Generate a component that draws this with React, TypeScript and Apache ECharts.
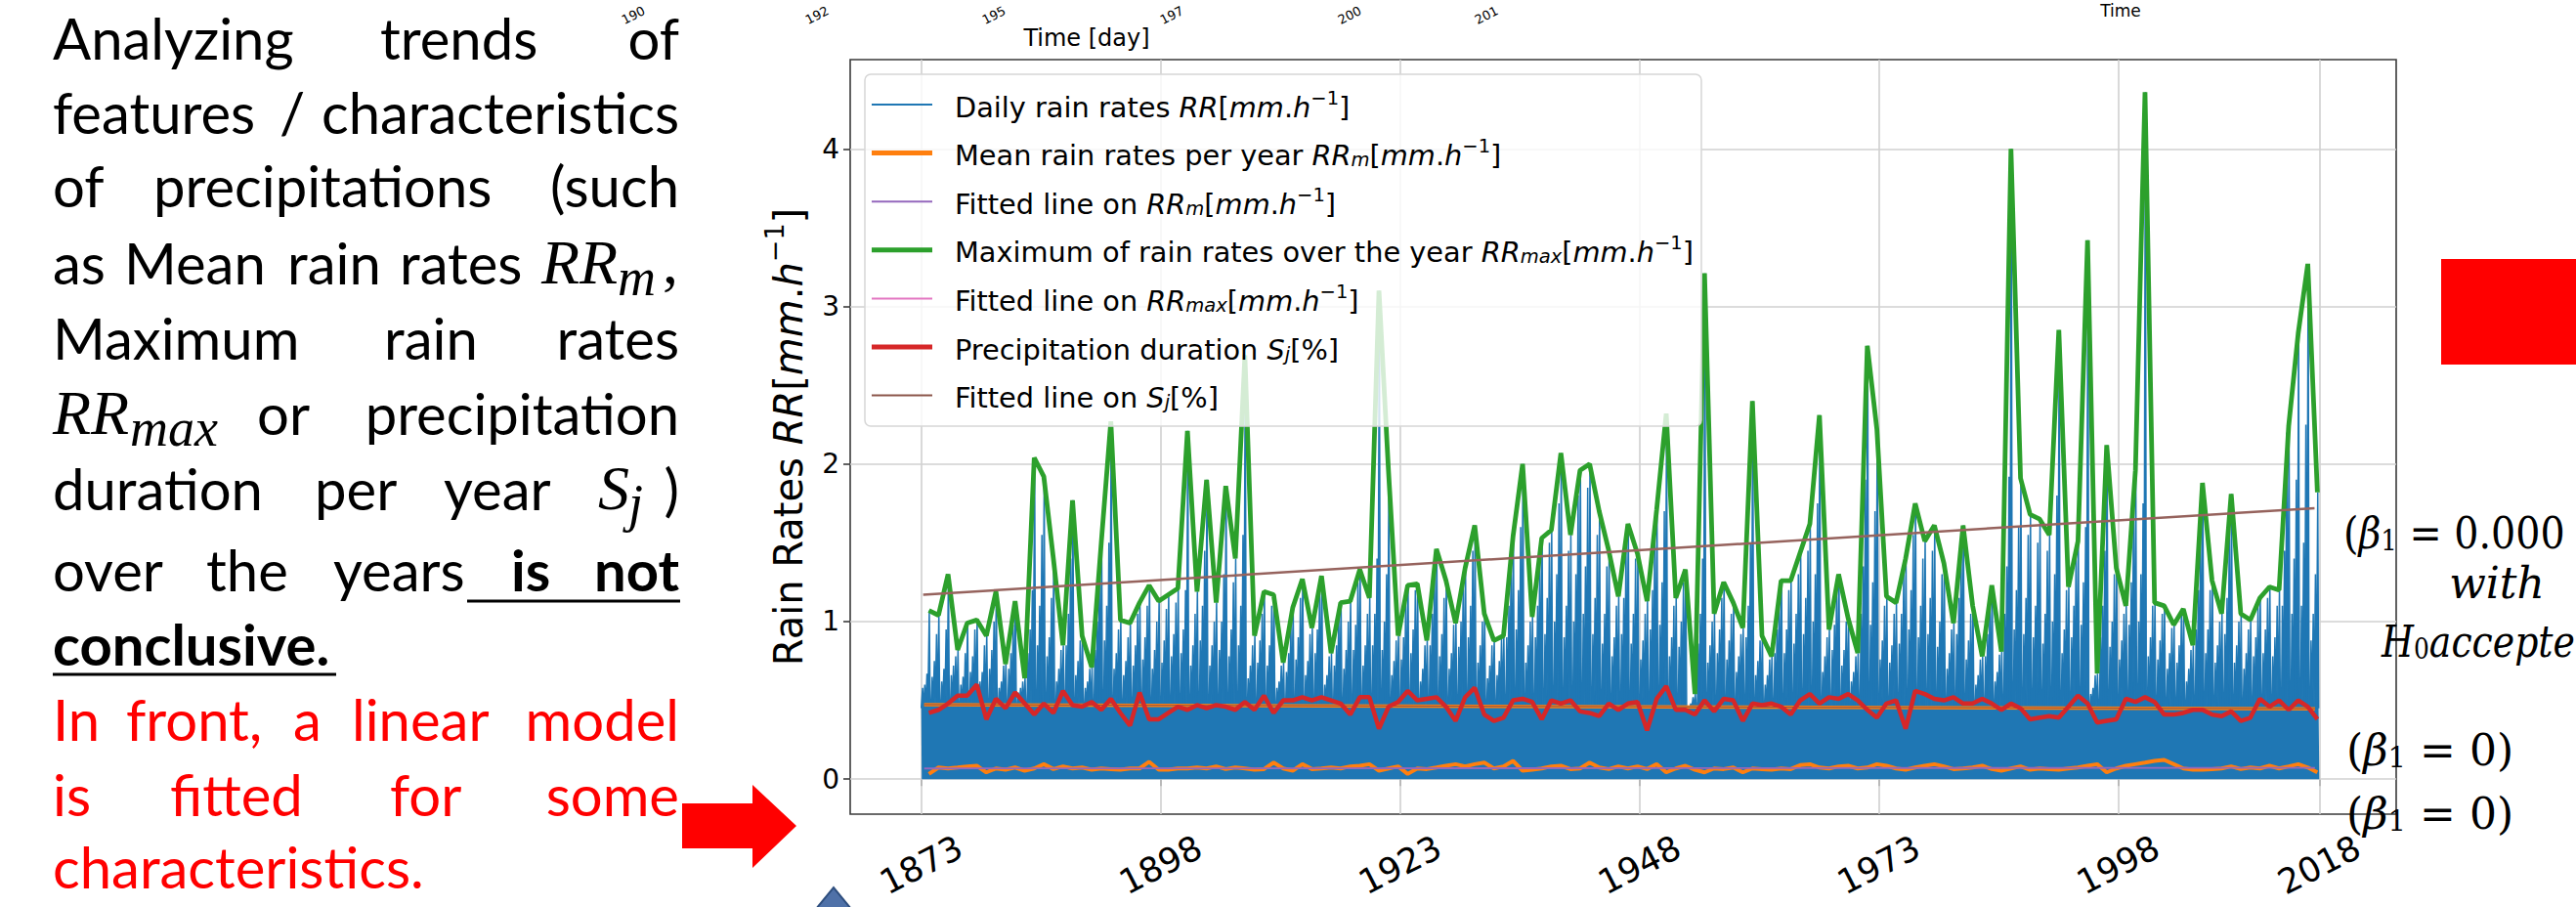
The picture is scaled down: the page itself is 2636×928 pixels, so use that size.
import React, { useEffect, useRef } from 'react';
import * as echarts from 'echarts';

// ---------------- data ----------------
const FIRST_YEAR = 1873;

// Maximum of daily rain rate per year (green)
const RR_MAX_YEARLY = [
  1.07, 1.04, 1.30, 0.82, 0.99, 1.01, 0.91, 1.19, 0.73, 1.13,
  0.64, 2.04, 1.92, 1.40, 0.85, 1.77, 0.91, 0.71, 1.50, 2.27,
  1.01, 0.99, 1.12, 1.23, 1.13, 1.17, 1.21, 2.21, 1.19, 1.90,
  1.12, 1.86, 1.40, 2.69, 0.91, 1.19, 1.17, 0.74, 1.09, 1.27,
  0.96, 1.29, 0.80, 1.12, 1.13, 1.33, 1.15, 3.10, 1.95, 0.91,
  1.23, 1.24, 0.88, 1.46, 1.26, 0.99, 1.34, 1.61, 1.05, 0.88,
  0.91, 1.54, 2.00, 1.03, 1.53, 1.58, 2.07, 1.55, 1.96, 2.00,
  1.70, 1.45, 1.16, 1.62, 1.43, 1.13, 1.71, 2.32, 1.15, 1.33,
  0.54, 3.21, 1.05, 1.25, 1.12, 0.96, 2.40, 0.91, 0.78, 1.26,
  1.26, 1.44, 1.62, 2.31, 0.95, 1.30, 1.02, 0.80, 2.75, 2.22,
  1.16, 1.12, 1.40, 1.75, 1.51, 1.61, 1.37, 0.99, 1.61, 1.10,
  0.78, 1.23, 0.81, 4.00, 1.91, 1.68, 1.65, 1.55, 2.85, 1.22,
  1.51, 3.42, 0.67, 2.12, 1.34, 1.10, 1.96, 4.36, 1.12, 1.10,
  0.98, 1.08, 0.85, 1.88, 1.26, 1.05, 1.81, 1.05, 1.01, 1.15,
  1.22, 1.20, 2.24, 2.83, 3.27, 1.82,
];

// Precipitation duration per year S_j (red)
const SJ_YEARLY = [
  0.42, 0.44, 0.48, 0.53, 0.53, 0.60, 0.38, 0.51, 0.45, 0.55,
  0.48, 0.41, 0.48, 0.42, 0.56, 0.47, 0.46, 0.49, 0.44, 0.51,
  0.42, 0.34, 0.55, 0.38, 0.38, 0.42, 0.46, 0.44, 0.47, 0.45,
  0.47, 0.46, 0.44, 0.49, 0.44, 0.53, 0.42, 0.50, 0.50, 0.52,
  0.50, 0.52, 0.50, 0.48, 0.41, 0.52, 0.52, 0.32, 0.46, 0.49,
  0.56, 0.50, 0.51, 0.52, 0.46, 0.37, 0.52, 0.58, 0.41, 0.37,
  0.39, 0.50, 0.51, 0.49, 0.38, 0.50, 0.48, 0.50, 0.43, 0.42,
  0.40, 0.48, 0.44,
  0.48, 0.49, 0.31, 0.51, 0.59, 0.44, 0.44, 0.41, 0.50, 0.43,
  0.51, 0.50, 0.37, 0.48, 0.47, 0.48, 0.46, 0.41, 0.50, 0.54,
  0.48, 0.52, 0.51, 0.54, 0.50, 0.44, 0.39, 0.48, 0.50, 0.32,
  0.56, 0.54, 0.51, 0.50, 0.52, 0.48, 0.48, 0.51, 0.48, 0.44,
  0.48, 0.45, 0.38, 0.39, 0.40, 0.39, 0.46, 0.53, 0.48, 0.36,
  0.37, 0.38, 0.51, 0.49, 0.52, 0.49, 0.41, 0.41, 0.42, 0.44,
  0.44, 0.41, 0.40, 0.43, 0.37, 0.39, 0.51, 0.46, 0.50, 0.44,
  0.50, 0.46, 0.38,
];

// Mean rain rate per year RR_m (orange)
const RR_MEAN_YEARLY = [
  0.033, 0.074, 0.068, 0.074, 0.081, 0.085, 0.043, 0.068, 0.060, 0.074,
  0.054, 0.068, 0.095, 0.064, 0.081, 0.068, 0.074, 0.060, 0.068, 0.064,
  0.060, 0.068, 0.068, 0.110, 0.060, 0.060, 0.068, 0.068, 0.074, 0.068,
  0.081, 0.064, 0.074, 0.068, 0.060, 0.064, 0.105, 0.068, 0.054, 0.095,
  0.064, 0.068, 0.074, 0.068, 0.081, 0.085, 0.095, 0.054, 0.068, 0.081,
  0.033, 0.068, 0.064, 0.074, 0.085, 0.095, 0.081, 0.095, 0.105, 0.068,
  0.081, 0.116, 0.054, 0.060, 0.068, 0.081, 0.085, 0.064, 0.068, 0.105,
  0.074, 0.064, 0.081,
  0.068, 0.081, 0.064, 0.095, 0.043, 0.068, 0.085, 0.060, 0.043, 0.068,
  0.064, 0.074, 0.043, 0.068, 0.064, 0.060, 0.068, 0.064, 0.089, 0.095,
  0.074, 0.068, 0.081, 0.085, 0.068, 0.074, 0.095, 0.085, 0.068, 0.060,
  0.074, 0.085, 0.095, 0.081, 0.064, 0.068, 0.074, 0.085, 0.064, 0.054,
  0.068, 0.081, 0.060, 0.068, 0.064, 0.060, 0.068, 0.074, 0.085, 0.095,
  0.043, 0.068, 0.085, 0.095, 0.105, 0.116, 0.122, 0.095, 0.068, 0.060,
  0.060, 0.064, 0.068, 0.081, 0.064, 0.074, 0.068, 0.085, 0.068, 0.081,
  0.095, 0.074, 0.043,
];

// Daily rain rates: second / third / fourth highest visible spikes per year (blue)
const DAILY_SECOND = [
  0.67, 0.92, 0.95, 0.78, 0.80, 0.95, 0.85, 1.00, 0.72, 0.98,
  0.62, 1.20, 1.55, 1.15, 0.82, 1.40, 0.88, 0.70, 1.35, 1.50,
  0.95, 0.90, 1.05, 1.10, 1.00, 1.08, 1.12, 1.20, 1.05, 1.45,
  1.00, 1.30, 1.25, 1.55, 0.85, 1.05, 1.10, 0.72, 1.00, 1.15,
  0.92, 1.20, 0.78, 1.05, 1.00, 1.25, 1.05, 1.40, 1.30, 0.88,
  1.15, 1.20, 0.85, 1.35, 1.15, 0.98, 1.25, 1.45, 1.00, 0.85,
  0.90, 1.40, 1.60, 1.00, 1.45, 1.50, 1.75, 1.45, 1.80, 1.85,
  1.55, 1.35, 1.10, 1.50, 1.40, 1.05, 1.55, 1.70, 1.10, 1.25,
  0.52, 1.40, 1.00, 1.15, 1.05, 0.92, 1.50, 0.88, 0.76, 1.15,
  1.20, 1.30, 1.45, 1.75, 0.90, 1.25, 1.00, 0.78, 1.90, 1.70,
  1.10, 1.05, 1.30, 1.55, 1.40, 1.45, 1.30, 0.95, 1.50, 1.05,
  0.76, 1.15, 0.79, 1.92, 1.60, 1.55, 1.50, 1.45, 1.80, 1.20,
  1.45, 1.60, 0.66, 1.45, 1.30, 1.05, 1.70, 1.75, 1.10, 1.05,
  0.96, 1.05, 0.82, 1.60, 1.20, 1.00, 1.55, 1.00, 0.95, 1.10,
  1.15, 1.10, 2.20, 1.90, 2.25, 1.30,
];
const DAILY_THIRD = [
  0.60, 0.75, 0.70, 0.72, 0.65, 0.78, 0.68, 0.82, 0.62, 0.80,
  0.58, 0.95, 1.10, 0.90, 0.70, 1.05, 0.75, 0.62, 1.00, 1.10,
  0.80, 0.75, 0.85, 0.90, 0.82, 0.88, 0.92, 0.95, 0.85, 1.10,
  0.85, 1.00, 0.95, 1.10, 0.72, 0.88, 0.85, 0.62, 0.80, 0.90,
  0.75, 0.95, 0.66, 0.85, 0.82, 0.98, 0.85, 1.05, 1.00, 0.75,
  0.90, 0.95, 0.70, 1.05, 0.92, 0.80, 1.00, 1.10, 0.85, 0.72,
  0.75, 1.10, 1.20, 0.85, 1.10, 1.15, 1.30, 1.10, 1.30, 1.35,
  1.15, 1.05, 0.90, 1.15, 1.05, 0.88, 1.20, 1.25, 0.90, 1.00,
  0.48, 1.05, 0.85, 0.95, 0.88, 0.78, 1.10, 0.75, 0.66, 0.95,
  0.95, 1.05, 1.15, 1.30, 0.78, 0.98, 0.82, 0.68, 1.35, 1.25,
  0.88, 0.85, 1.05, 1.20, 1.10, 1.15, 1.00, 0.80, 1.15, 0.88,
  0.66, 0.92, 0.68, 1.35, 1.20, 1.15, 1.10, 1.05, 1.30, 0.95,
  1.10, 1.25, 0.58, 1.10, 1.00, 0.88, 1.25, 1.30, 0.90, 0.88,
  0.80, 0.85, 0.70, 1.20, 0.95, 0.85, 1.15, 0.85, 0.80, 0.90,
  0.95, 0.90, 1.45, 1.40, 1.50, 1.05,
];
const DAILY_FOURTH = [
  0.58, 0.65, 0.62, 0.66, 0.60, 0.68, 0.62, 0.70, 0.58, 0.70,
  0.55, 0.80, 0.85, 0.78, 0.62, 0.85, 0.66, 0.58, 0.82, 0.88,
  0.70, 0.66, 0.72, 0.76, 0.70, 0.74, 0.78, 0.80, 0.72, 0.88,
  0.72, 0.82, 0.78, 0.85, 0.64, 0.74, 0.72, 0.58, 0.68, 0.76,
  0.66, 0.80, 0.60, 0.72, 0.70, 0.82, 0.72, 0.85, 0.82, 0.66,
  0.76, 0.80, 0.62, 0.85, 0.78, 0.70, 0.84, 0.90, 0.74, 0.64,
  0.66, 0.90, 0.95, 0.74, 0.90, 0.92, 1.00, 0.90, 1.00, 1.05,
  0.92, 0.86, 0.78, 0.92, 0.86, 0.76, 0.95, 0.98, 0.78, 0.84,
  0.46, 0.86, 0.74, 0.80, 0.76, 0.68, 0.90, 0.66, 0.60, 0.80,
  0.80, 0.86, 0.92, 1.00, 0.68, 0.82, 0.72, 0.62, 1.05, 0.98,
  0.76, 0.74, 0.86, 0.95, 0.90, 0.92, 0.84, 0.70, 0.92, 0.76,
  0.60, 0.78, 0.62, 1.05, 0.95, 0.92, 0.90, 0.86, 1.00, 0.80,
  0.90, 0.98, 0.54, 0.90, 0.84, 0.76, 0.98, 1.00, 0.78, 0.76,
  0.70, 0.74, 0.62, 0.95, 0.80, 0.74, 0.92, 0.74, 0.70, 0.78,
  0.80, 0.78, 1.10, 1.05, 1.10, 0.88,
];
// level under which the daily series forms a solid band
const DAILY_SOLID_LEVEL = 0.45;

// fitted straight lines [year, value]
const FIT_RR_MEAN = [[1873.3, 0.068], [2018.55, 0.072]];
const FIT_RR_MAX = [[1873.2, 1.17], [2018.5, 1.72]];
const FIT_SJ = [[1873.3, 0.473], [2018.55, 0.447]];

const X_TICK_POS = [1873, 1898, 1923, 1948, 1973, 1998, 2019];
const X_TICK_LABELS = ['1873', '1898', '1923', '1948', '1973', '1998', '2018'];
const Y_TICKS = [0, 1, 2, 3, 4];
const X_MIN = 1865.58;
const X_MAX = 2027.03;
const Y_MIN = -0.222;
const Y_MAX = 4.566;

// ---------------- styles ----------------
const C_BLUE = '#1f77b4';
const C_ORANGE = '#ff7f0e';
const C_GREEN = '#2ca02c';
const C_RED = '#d62728';
const C_PURPLE = '#9467bd';
const C_BROWN = '#8c564b';
const C_PINK = '#e377c2';
const MPL_FONT = 'DejaVu Sans';
const SLIDE_FONT = 'Lato';
const MATH_FONT = 'Liberation Serif';
const CAMBRIA_FONT = 'DejaVu Serif';

function yearPos(k: number) {
  return FIRST_YEAR + k + 0.8;
}

function buildDaily() {
  const pts: number[][] = [];
  const T = DAILY_SOLID_LEVEL;
  const spike = (x: number, h: number) => {
    pts.push([x - 0.09, T], [x, h], [x + 0.09, T]);
  };
  pts.push([FIRST_YEAR, T]);
  RR_MAX_YEARLY.forEach((mx, k) => {
    const yr = FIRST_YEAR + k;
    spike(yr + 0.14, DAILY_FOURTH[k]);
    spike(yr + 0.37, DAILY_THIRD[k]);
    spike(yr + 0.6, DAILY_SECOND[k]);
    spike(yr + 0.84, mx);
  });
  pts.push([FIRST_YEAR + RR_MAX_YEARLY.length, T]);
  return pts;
}

const UNIT = '{n|[}{i|mm}{n|.}{i|h}{p|−1}{n|]}';
const LEGEND_ITEMS = [
  { text: '{n|Daily rain rates }{i|RR}' + UNIT, color: C_BLUE, w: 2 },
  { text: '{n|Mean rain rates per year }{i|RR}{b|m}' + UNIT, color: C_ORANGE, w: 5 },
  { text: '{n|Fitted line on }{i|RR}{b|m}' + UNIT, color: C_PURPLE, w: 2 },
  { text: '{n|Maximum of rain rates over the year }{i|RR}{b|max}' + UNIT, color: C_GREEN, w: 5 },
  { text: '{n|Fitted line on }{i|RR}{b|max}' + UNIT, color: C_PINK, w: 2 },
  { text: '{n|Precipitation duration }{i|S}{b|j}{n|[%]}', color: C_RED, w: 5 },
  { text: '{n|Fitted line on }{i|S}{b|j}{n|[%]}', color: C_BROWN, w: 2 },
];

const LEGEND_RICH = {
  n: { fontSize: 28.8, fontFamily: MPL_FONT, lineHeight: 34, verticalAlign: 'bottom' },
  i: { fontSize: 28.8, fontFamily: MPL_FONT, fontStyle: 'italic', lineHeight: 34, verticalAlign: 'bottom' },
  p: { fontSize: 19.5, fontFamily: MPL_FONT, lineHeight: 22, verticalAlign: 'top' },
  b: { fontSize: 19.5, fontFamily: MPL_FONT, fontStyle: 'italic', lineHeight: 18, verticalAlign: 'bottom' },
};

// slide paragraph: baseline, words (x = left edge, r = right aligned at x)
type Word = { t: string; x: number; r?: boolean; bold?: boolean };
const PARAGRAPH: { base: number; color: string; words: Word[] }[] = [
  { base: 60, color: '#000', words: [{ t: 'Analyzing', x: 54 }, { t: 'trends', x: 389 }, { t: 'of', x: 695, r: true }] },
  { base: 136, color: '#000', words: [{ t: 'features', x: 54 }, { t: '/', x: 286 }, { t: 'characteristics', x: 695, r: true }] },
  { base: 211, color: '#000', words: [{ t: 'of', x: 54 }, { t: 'precipitations', x: 157 }, { t: '(such', x: 695, r: true }] },
  { base: 290, color: '#000', words: [{ t: 'as', x: 54 }, { t: 'Mean', x: 127 }, { t: 'rain', x: 294 }, { t: 'rates', x: 409 }] },
  { base: 367, color: '#000', words: [{ t: 'Maximum', x: 54 }, { t: 'rain', x: 393 }, { t: 'rates', x: 695, r: true }] },
  { base: 444, color: '#000', words: [{ t: 'or', x: 263 }, { t: 'precipitation', x: 695, r: true }] },
  { base: 521, color: '#000', words: [{ t: 'duration', x: 54 }, { t: 'per', x: 322 }, { t: 'year', x: 454 }, { t: ')', x: 695, r: true }] },
  { base: 604, color: '#000', words: [{ t: 'over', x: 54 }, { t: 'the', x: 211 }, { t: 'years', x: 341 }, { t: 'is', x: 523, bold: true }, { t: 'not', x: 695, r: true, bold: true }] },
  { base: 680, color: '#000', words: [{ t: 'conclusive.', x: 54, bold: true }] },
  { base: 757, color: '#ff0000', words: [{ t: 'In', x: 54 }, { t: 'front,', x: 129 }, { t: 'a', x: 300 }, { t: 'linear', x: 360 }, { t: 'model', x: 695, r: true }] },
  { base: 834, color: '#ff0000', words: [{ t: 'is', x: 54 }, { t: 'fitted', x: 174 }, { t: 'for', x: 399 }, { t: 'some', x: 695, r: true }] },
  { base: 908, color: '#ff0000', words: [{ t: 'characteristics.', x: 54 }] },
];
const PARA_SIZE = 58;

function buildGraphics() {
  const g: any[] = [];
  // --- slide paragraph ---
  PARAGRAPH.forEach((line) => {
    line.words.forEach((w) => {
      g.push({
        type: 'text', x: w.x, y: line.base - 0.37 * PARA_SIZE, z: 50,
        style: {
          text: w.t, fill: line.color, fontSize: PARA_SIZE, fontFamily: SLIDE_FONT,
          fontWeight: w.bold ? 'bold' : 'normal', align: w.r ? 'right' : 'left', verticalAlign: 'middle',
        },
      });
    });
  });
  const mathText = (t: string, x: number, base: number, size: number, align = 'left') => ({
    type: 'text', x, y: base - 0.34 * size, z: 50,
    style: { text: t, fill: '#000', fontSize: size, fontFamily: MATH_FONT, fontStyle: 'italic', align, verticalAlign: 'middle' },
  });
  // RR_m,
  g.push(mathText('RR', 554, 290, 64));
  g.push(mathText('m', 632, 302, 54));
  g.push({ type: 'text', x: 678, y: 290 - 0.34 * 64, z: 50, style: { text: ',', fill: '#000', fontSize: 64, fontFamily: MATH_FONT, verticalAlign: 'middle' } });
  // RR_max
  g.push(mathText('RR', 54, 444, 64));
  g.push(mathText('max', 133, 456, 54));
  // S_j
  g.push(mathText('S', 612, 521, 64));
  g.push(mathText('j', 643, 533, 54));
  // underlines
  g.push({ type: 'line', z: 50, shape: { x1: 478, y1: 615, x2: 696, y2: 615 }, style: { stroke: '#000', lineWidth: 3 } });
  g.push({ type: 'line', z: 50, shape: { x1: 54, y1: 690, x2: 344, y2: 690 }, style: { stroke: '#000', lineWidth: 3 } });

  // --- arrow, triangle, red box ---
  g.push({
    type: 'polygon', z: 50,
    shape: { points: [[698, 822], [770, 822], [770, 803], [815, 845], [770, 888], [770, 868], [698, 868]] },
    style: { fill: '#ff0000' },
  });
  g.push({
    type: 'polygon', z: 50,
    shape: { points: [[835, 930], [853, 908], [871, 930]] },
    style: { fill: '#4f71a8', stroke: '#2e4e7e', lineWidth: 2 },
  });
  g.push({ type: 'rect', z: 50, shape: { x: 2498, y: 265, width: 140, height: 108 }, style: { fill: '#ff0000' } });

  // --- remnants of the figure above (only their visible part, kept inside the page) ---
  [['190', 640], ['192', 828], ['195', 1009], ['197', 1191], ['200', 1373], ['201', 1513]].forEach(([t, x]) => {
    g.push({
      type: 'text', x: x as number, y: 27, rotation: (27 * Math.PI) / 180, z: 50,
      style: { text: t as string, fill: '#000', fontSize: 13, fontFamily: MPL_FONT, align: 'left', verticalAlign: 'bottom' },
    });
  });
  g.push({ type: 'text', x: 1112, y: 39, z: 50, style: { text: 'Time [day]', fill: '#000', fontSize: 24, fontFamily: MPL_FONT, align: 'center', verticalAlign: 'middle' } });
  g.push({ type: 'text', x: 2170, y: 11, z: 50, style: { text: 'Time', fill: '#000', fontSize: 17, fontFamily: MPL_FONT, align: 'center', verticalAlign: 'middle' } });

  // --- y axis title ---
  g.push({
    type: 'text', x: 803, y: 447, rotation: Math.PI / 2, z: 50,
    style: {
      text: '{n|Rain Rates }{i|RR}{n|[}{i|mm}{n|.}{i|h}{p|−1}{n|]}',
      fill: '#000', align: 'center', verticalAlign: 'middle',
      rich: {
        n: { fontSize: 40, fontFamily: MPL_FONT, lineHeight: 48, verticalAlign: 'bottom' },
        i: { fontSize: 40, fontFamily: MPL_FONT, fontStyle: 'italic', lineHeight: 48, verticalAlign: 'bottom' },
        p: { fontSize: 27, fontFamily: MPL_FONT, lineHeight: 30, verticalAlign: 'top' },
      },
    },
  });

  // --- legend ---
  g.push({
    type: 'rect', z: 100,
    shape: { x: 885, y: 76, width: 856, height: 360, r: 6 },
    style: { fill: 'rgba(255,255,255,0.8)', stroke: '#d6d6d6', lineWidth: 1.5 },
  });
  LEGEND_ITEMS.forEach((it, i) => {
    const cy = 107 + 49.6 * i;
    g.push({ type: 'line', z: 101, shape: { x1: 892, y1: cy, x2: 954, y2: cy }, style: { stroke: it.color, lineWidth: it.w } });
    g.push({
      type: 'text', x: 977, y: cy, z: 101,
      style: { text: it.text, fill: '#000', align: 'left', verticalAlign: 'middle', rich: LEGEND_RICH },
    });
  });

  // --- annotations right of the plot ---
  const camRich = {
    p: { fontSize: 44, fontFamily: CAMBRIA_FONT, lineHeight: 52, verticalAlign: 'bottom' },
    b: { fontSize: 44, fontFamily: CAMBRIA_FONT, fontStyle: 'italic', lineHeight: 52, verticalAlign: 'bottom' },
    s: { fontSize: 29, fontFamily: CAMBRIA_FONT, lineHeight: 18, verticalAlign: 'bottom' },
  };
  const ann = (text: string, x: number, base: number, align = 'left', sx = 1) => ({
    type: 'text', x, y: base - 15.5, z: 50, scaleX: sx,
    style: { text, fill: '#000', align, verticalAlign: 'middle', rich: camRich },
  });
  g.push(ann('{p|(}{b|β}{s|1}{p| = 0.000}', 2398, 557, 'left', 0.9));
  g.push(ann('{b|with}', 2555, 608, 'center'));
  g.push(ann('{b|H}{s|0}{b|accepte}', 2437, 668, 'left', 0.86));
  g.push(ann('{p|(}{b|β}{s|1}{p| = 0)}', 2401, 779));
  g.push(ann('{p|(}{b|β}{s|1}{p| = 0)}', 2401, 844));
  return g;
}

function buildOption(): any {
  const green = RR_MAX_YEARLY.map((v, k) => [yearPos(k), v]);
  const red = SJ_YEARLY.map((v, k) => [yearPos(k), v]);
  const orange = RR_MEAN_YEARLY.map((v, k) => [yearPos(k), v]);
  const tickLabel = (v: number) => {
    const i = X_TICK_POS.indexOf(v);
    return i >= 0 ? X_TICK_LABELS[i] : '';
  };
  return {
    animation: false,
    backgroundColor: '#ffffff',
    grid: {
      left: 870, right: 184, top: 61, bottom: 95, containLabel: false,
      show: true, borderColor: '#3a3a3a', borderWidth: 1.6, backgroundColor: 'transparent',
    },
    xAxis: {
      type: 'value', min: X_MIN, max: X_MAX,
      axisLine: { show: false },
      splitLine: { show: false },
      axisTick: { show: true, customValues: X_TICK_POS, length: 7, lineStyle: { color: '#3a3a3a', width: 1.6 } },
      axisLabel: {
        customValues: X_TICK_POS, formatter: tickLabel, rotate: 27, margin: 52,
        align: 'center', verticalAlign: 'middle',
        fontSize: 35, fontFamily: MPL_FONT, color: '#000',
      },
    },
    yAxis: {
      type: 'value', min: Y_MIN, max: Y_MAX,
      axisLine: { show: false },
      splitLine: { show: false },
      axisTick: { show: true, customValues: Y_TICKS, length: 7, lineStyle: { color: '#3a3a3a', width: 1.6 } },
      axisLabel: {
        customValues: Y_TICKS, margin: 11, fontSize: 28, fontFamily: MPL_FONT, color: '#000',
      },
    },
    series: [
      {
        name: 'grid', type: 'line', z: 1, silent: true, symbol: 'none',
        data: [[X_TICK_POS[0], Y_TICKS[0]]], lineStyle: { opacity: 0 },
        markLine: {
          z: 1, silent: true, symbol: ['none', 'none'], label: { show: false },
          lineStyle: { color: '#d0d0d0', width: 1.6, type: 'solid' },
          data: [...X_TICK_POS.map((v) => ({ xAxis: v })), ...Y_TICKS.map((v) => ({ yAxis: v }))],
        },
      },
      {
        name: 'Daily rain rates RR[mm.h-1]', type: 'line', z: 2, symbol: 'none', data: buildDaily(),
        lineStyle: { color: C_BLUE, width: 1.5 }, areaStyle: { color: C_BLUE, opacity: 1 },
      },
      {
        name: 'Mean rain rates per year RRm[mm.h-1]', type: 'line', z: 3, symbol: 'none', data: orange,
        lineStyle: { color: C_ORANGE, width: 4 },
      },
      {
        name: 'Fitted line on RRm[mm.h-1]', type: 'line', z: 4, symbol: 'none', data: FIT_RR_MEAN,
        lineStyle: { color: C_PURPLE, width: 1.8 },
      },
      {
        name: 'Maximum of rain rates over the year RRmax[mm.h-1]', type: 'line', z: 5, symbol: 'none', data: green,
        lineStyle: { color: C_GREEN, width: 4.8 },
      },
      {
        name: 'Fitted line on Sj[%] (band)', type: 'line', z: 6, symbol: 'none', data: FIT_SJ,
        lineStyle: { color: C_ORANGE, width: 3.5 },
      },
      {
        name: 'Fitted line on Sj[%]', type: 'line', z: 6, symbol: 'none', data: FIT_SJ,
        lineStyle: { color: C_BROWN, width: 1 },
      },
      {
        name: 'Precipitation duration Sj[%]', type: 'line', z: 7, symbol: 'none', data: red,
        lineStyle: { color: C_RED, width: 4.5 },
      },
      {
        name: 'Fitted line on RRmax[mm.h-1]', type: 'line', z: 8, symbol: 'none', data: FIT_RR_MAX,
        lineStyle: { color: '#96635d', width: 2.5 },
      },
    ],
    graphic: { elements: buildGraphics() },
  };
}

export default function App() {
  const ref = useRef<HTMLDivElement>(null);
  useEffect(() => {
    if (!ref.current) return;
    const chart = echarts.init(ref.current, null, { renderer: 'svg' });
    chart.setOption(buildOption());
    return () => chart.dispose();
  }, []);
  return (
    <div
      ref={ref}
      style={{ position: 'absolute', left: 0, top: 0, width: 2636, height: 928, background: '#fff' }}
    />
  );
}
